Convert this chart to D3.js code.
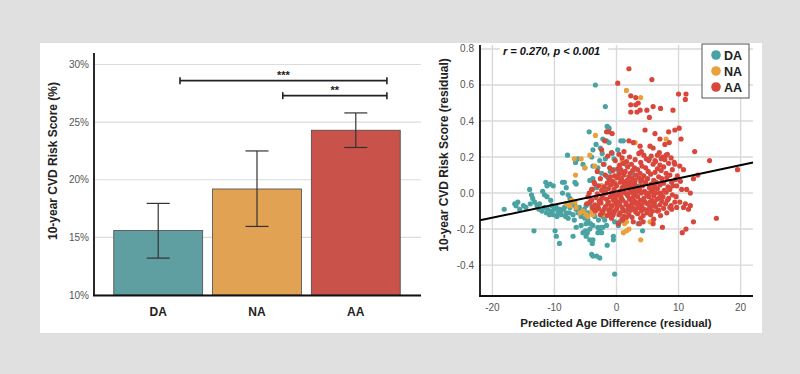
<!DOCTYPE html>
<html>
<head>
<meta charset="utf-8">
<script src="https://cdn.jsdelivr.net/npm/d3@7"></script>
<style>
  body { margin: 0; background: #e0e0e0; }
  svg { display: block; font-family: "Liberation Sans", Arial, sans-serif; }
</style>
</head>
<body>
<div id="chart"></div>
<script>
// ---- bar chart data ----
var groups = ["DA", "NA", "AA"];
var meanRisk = [15.6, 19.2, 24.3];
var errLow = [13.2, 15.95, 22.8];
var errHigh = [17.95, 22.5, 25.8];
var riskTicks = [10, 15, 20, 25, 30];
// brackets: from group, to group, height (%), label
var sigFrom = ["DA", "NA"];
var sigTo = ["AA", "AA"];
var sigLevel = [28.6, 27.3];
var sigLabel = ["***", "**"];

// ---- scatter data ----
var ageTicks = [-20, -10, 0, 10, 20];
var residTicks = [-0.4, -0.2, 0, 0.2, 0.4, 0.6, 0.8];
var fitSlope = 0.0073, fitIntercept = 0.009;
var fitText = "r = 0.270, p < 0.001";

var daPoints = [
  [-3.4,0.60],[-1.8,0.48],[-1.5,0.37],[-1.2,0.36],[-4.4,0.34],[-2.2,0.30],[-1.6,0.29],[-1.2,0.28],[0.7,0.29],[1.1,0.29],
  [-3.3,0.27],[-3.8,0.24],[-4.0,0.20],[-2.6,0.25],[-2.3,0.22],[-1.8,0.19],[-2.7,0.18],[-7.9,0.21],[-0.7,0.22],[-0.4,0.19],
  [5.3,0.19],[-5.4,0.16],[-5.1,0.14],[-6.6,0.17],[-6.2,0.19],[-3.8,0.15],[-3.0,0.14],[-2.0,0.16],[-0.5,0.13],[0.4,0.12],
  [-2.4,0.11],[-1.5,0.09],[-4.3,0.07],[-3.8,0.08],
  [-18.1,-0.09],[-16.4,-0.06],[-15.9,-0.05],[-16.2,-0.07],[-15.0,-0.07],[-15.6,-0.09],[-14.0,0.02],[-13.7,-0.01],[-13.5,-0.03],[-13.9,-0.06],
  [-13.2,-0.05],[-12.8,-0.07],[-12.4,-0.06],[-12.5,-0.09],[-13.3,-0.21],[-11.4,0.06],[-11.2,0.04],[-10.7,0.05],[-10.2,0.04],[-11.9,0.01],[-11.6,-0.01],
  [-11.2,-0.02],[-10.6,-0.04],[-11.6,-0.08],[-11.1,-0.09],[-10.5,-0.10],[-10.0,-0.09],[-11.3,-0.11],[-10.8,-0.12],[-10.2,-0.12],
  [-9.7,-0.08],[-9.2,-0.09],[-9.4,-0.11],[-8.6,-0.09],[-8.9,-0.12],[-8.1,-0.11],[-8.4,-0.08],[-9.9,-0.21],[-9.7,-0.24],[-9.2,-0.28],
  [-8.7,0.06],[-8.4,0.06],[-8.1,0.03],[-8.7,0.0],[-7.8,-0.01],[-7.5,-0.03],[-7.3,-0.06],[-6.7,-0.07],[-7.5,-0.08],[-6.5,-0.09],
  [-6.7,0.06],[-6.5,0.05],[-7.0,-0.24],[-6.5,-0.19],[-5.9,-0.10],[-5.4,-0.11],[-5.7,-0.13],[-5.1,-0.14],[-4.6,-0.15],[-4.9,-0.17],
  [-5.7,-0.18],[-5.0,-0.21],[-4.7,-0.22],[-4.2,-0.17],[-3.8,-0.18],[-4.3,-0.20],[-5.4,-0.22],[-4.9,-0.24],[-4.3,-0.26],[-3.9,-0.28],[-3.8,-0.26],
  [-4.0,-0.34],[-3.8,-0.35],[-3.2,-0.35],[-2.7,-0.36],[-3.0,-0.19],[-2.7,-0.20],[-2.4,-0.19],[-3.0,-0.22],[-2.4,-0.22],[-2.2,-0.19],
  [-1.9,-0.15],[-1.6,-0.18],[-1.5,-0.29],[-0.5,-0.24],[-0.5,-0.26],[-0.3,-0.45],[-0.8,-0.13],[-0.3,-0.16],[0.3,-0.18],[0.5,-0.16],
  [4.2,-0.21],[3.5,-0.17],[-3.2,0.03],[-2.4,0.04],[-1.9,0.02],[-4.9,-0.07],[-4.3,-0.06],[5.4,-0.08],[1.6,-0.10],
  [-9.0,-0.10],[-8.2,-0.13],[-7.6,-0.11],[-7.0,-0.12],[-6.2,-0.11],[-6.0,-0.08],[-5.2,-0.09],[-4.6,-0.11],[-3.5,-0.13],[-2.9,-0.15],
  [-2.2,-0.13],[-1.2,-0.10],[-10.4,-0.07],[-12.0,-0.10],[-14.6,-0.08],[-9.6,-0.13],[-7.8,-0.14],[-6.8,-0.15],
  [-1.0,0.12],[0.2,0.24],[1.5,0.16],[2.8,0.10],[3.6,0.04]
];

var naPoints = [
  [1.6,0.57],[3.9,0.53],[-3.4,0.32],[3.0,0.28],[8.0,0.30],[-6.8,0.19],[-5.7,0.19],[-4.3,0.21],[-5.1,0.14],[-3.5,0.15],
  [-6.6,0.10],[0.3,0.09],[1.9,0.16],[-8.1,-0.06],[-7.5,-0.07],[-6.7,-0.05],[-6.5,-0.08],[-5.9,-0.11],[-5.4,-0.10],[-4.9,-0.12],
  [-4.0,-0.10],[-3.8,-0.12],[1.3,-0.17],[1.6,-0.16],[1.1,-0.22],[1.6,-0.21],[2.0,-0.20],[3.9,-0.26],[5.4,-0.16],[0.5,-0.04],
  [-0.3,0.06],[-2.4,0.04],[-1.9,-0.12],[2.7,0.02],[-7.2,-0.04],[-4.6,-0.13],[-2.8,-0.09],[0.9,0.18]
];

var aaPoints = [
  [2.0,0.69],[0.2,0.61],[5.7,0.63],[2.3,0.54],[3.1,0.53],[3.5,0.50],[2.3,0.49],[3.1,0.49],[2.3,0.45],[3.3,0.45],
  [3.8,0.46],[4.9,0.46],[5.9,0.48],[7.1,0.47],[9.1,0.46],[5.3,0.42],[10.0,0.55],[11.2,0.55],[11.1,0.52],[4.6,0.35],
  [6.2,0.33],[7.0,0.30],[8.4,0.34],[9.4,0.35],[10.1,0.36],[10.4,0.30],[-1.2,0.34],[-1.9,0.29],[-2.4,0.24],[2.0,0.29],
  [2.7,0.28],[3.8,0.26],[5.4,0.26],[5.9,0.25],[4.0,0.23],[8.5,0.28],[7.8,0.27],[7.2,0.19],[8.0,0.21],[6.6,0.21],
  [6.2,0.18],[12.6,0.23],[15.0,0.18],[19.5,0.13],[9.4,0.16],[10.2,0.15],[10.8,0.13],[12.4,0.08],[13.1,0.10],[9.7,0.04],
  [10.5,0.02],[11.3,0.02],[11.9,0.0],[9.4,-0.05],[10.2,-0.05],[11.1,-0.06],[11.9,-0.07],[9.7,-0.08],[10.8,-0.08],[11.6,-0.09],
  [8.1,-0.11],[8.9,-0.09],[16.1,-0.14],[12.4,-0.16],[11.2,-0.20],[10.6,-0.22],[7.4,-0.19],[5.9,-0.17],[4.3,-0.16],[3.7,-0.17],
  [2.7,-0.16],[0.3,-0.17],[1.0,-0.15],[-3.5,0.05],[-4.0,0.02],[-1.6,0.34],[-0.7,0.33],
  [-0.8,0.225],[0.4,0.215],[1.2,0.23],[3.6,0.22],[4.4,0.21],[6.9,0.225],[8.2,0.215],
  [-1.4,0.205],[0.9,0.195],[2.1,0.2],[4.8,0.19],[5.6,0.205],[7.4,0.2],[8.8,0.195],
  [-0.2,0.18],[1.6,0.175],[3.0,0.185],[3.9,0.17],[5.2,0.18],[6.3,0.175],[7.8,0.185],[9.3,0.17],
  [-2.1,0.16],[0.5,0.155],[1.1,0.165],[2.4,0.16],[4.1,0.15],[5.9,0.16],[7.0,0.155],[8.4,0.165],
  [-1.1,0.14],[0.2,0.135],[1.8,0.145],[2.9,0.14],[3.4,0.13],[4.7,0.14],[6.6,0.135],[7.6,0.145],[9.0,0.13],
  [-3.1,0.12],[-0.6,0.125],[0.9,0.115],[1.4,0.12],[2.6,0.125],[3.8,0.11],[5.1,0.12],[6.2,0.115],[7.2,0.125],[8.0,0.11],
  [-1.8,0.1],[-0.3,0.095],[0.4,0.105],[1.2,0.1],[2.0,0.09],[3.1,0.1],[4.4,0.095],[5.5,0.105],[6.8,0.09],[8.6,0.1],[9.8,0.095],
  [-2.6,0.08],[-1.2,0.075],[0.1,0.085],[0.8,0.08],[1.7,0.07],[2.5,0.08],[3.6,0.085],[4.1,0.075],[5.0,0.08],[6.0,0.07],[7.3,0.08],[8.1,0.085],[9.5,0.075],
  [-3.6,0.06],[-1.5,0.055],[-0.6,0.065],[0.6,0.06],[1.3,0.05],[2.2,0.06],[2.9,0.055],[3.9,0.065],[4.7,0.06],[5.6,0.05],[6.4,0.06],[7.6,0.055],[8.9,0.06],[10.3,0.065],
  [-2.9,0.04],[-2.0,0.035],[-0.9,0.045],[0.0,0.04],[0.9,0.03],[1.6,0.04],[2.6,0.045],[3.3,0.035],[4.2,0.04],[5.3,0.03],[6.1,0.04],[7.0,0.045],[8.3,0.035],[9.1,0.04],
  [-3.9,0.02],[-2.4,0.015],[-1.3,0.025],[-0.4,0.02],[0.5,0.01],[1.1,0.02],[2.0,0.025],[2.8,0.015],[3.7,0.02],[4.5,0.01],[5.9,0.02],[6.6,0.025],[7.7,0.015],[8.6,0.02],
  [-4.4,0.0],[-3.1,-0.005],[-1.9,0.005],[-0.8,0.0],[0.2,-0.01],[1.4,0.0],[2.3,0.005],[3.0,-0.005],[4.0,0.0],[4.9,-0.01],[5.5,0.005],[6.3,0.0],[7.2,-0.005],[8.0,0.005],[9.0,-0.01],
  [-4.6,-0.02],[-3.3,-0.025],[-2.2,-0.015],[-1.0,-0.02],[-0.2,-0.03],[0.7,-0.02],[1.8,-0.015],[2.6,-0.025],[3.4,-0.02],[4.4,-0.03],[5.2,-0.02],[6.0,-0.015],[6.9,-0.025],[7.5,-0.02],[8.4,-0.03],[9.6,-0.02],
  [-4.0,-0.04],[-2.8,-0.045],[-1.6,-0.035],[-0.5,-0.04],[0.3,-0.05],[1.0,-0.04],[2.1,-0.035],[2.9,-0.045],[3.8,-0.04],[4.6,-0.05],[5.7,-0.04],[6.5,-0.035],[7.3,-0.045],[8.2,-0.04],
  [-4.8,-0.06],[-3.5,-0.065],[-2.5,-0.055],[-1.4,-0.06],[-0.7,-0.07],[0.5,-0.06],[1.5,-0.055],[2.4,-0.065],[3.2,-0.06],[4.1,-0.07],[5.0,-0.06],[6.1,-0.055],[7.0,-0.065],[7.9,-0.06],[8.8,-0.07],
  [-3.9,-0.08],[-2.9,-0.085],[-1.8,-0.075],[-0.9,-0.08],[0.0,-0.09],[0.9,-0.08],[1.9,-0.075],[2.7,-0.085],[3.5,-0.08],[4.5,-0.09],[5.4,-0.08],[6.3,-0.075],[7.6,-0.085],[8.6,-0.08],
  [-3.4,-0.1],[-2.3,-0.105],[-1.2,-0.095],[-0.3,-0.1],[0.6,-0.11],[1.4,-0.1],[2.3,-0.095],[3.1,-0.105],[4.0,-0.1],[4.9,-0.11],[5.8,-0.1],[6.8,-0.095],
  [-2.6,-0.12],[-1.5,-0.125],[-0.5,-0.115],[0.4,-0.12],[1.2,-0.13],[2.0,-0.12],[3.4,-0.115],[4.3,-0.125],[5.5,-0.12],[7.1,-0.125],
  [-0.8,-0.14],[0.9,-0.145],[2.5,-0.135],[3.9,-0.14],[6.0,-0.145],
  [-3.0,-0.07],[-2.0,-0.09],[-1.0,-0.11],[0.1,-0.075],[1.1,-0.095],[2.0,-0.085],[3.0,-0.09],[4.0,-0.085],[5.0,-0.095],
  [-2.4,-0.03],[-1.3,-0.05],[-0.1,-0.055],[0.8,-0.03],[1.6,-0.065],[2.5,-0.05],[3.6,-0.055],[4.4,-0.045],[5.4,-0.05],
  [-1.7,0.0],[-0.4,-0.01],[0.9,0.005],[1.8,-0.005],[2.7,0.0],[3.5,0.01],[-0.2,0.05],[1.0,0.065],[2.0,0.045],[3.0,0.07],
  [-1.0,0.09],[0.7,0.13],[2.2,0.11],[-2.3,-0.11],[-0.6,-0.125],[1.6,-0.135],[-3.6,-0.09],[-4.3,-0.05],[4.8,0.0],[5.9,-0.07],
  [6.6,-0.1],[7.0,0.0]
];

var barColors = ["#5f9fa2", "#e2a254", "#c9534a"];
var dotColors = ["#4aa3a3", "#e9a23b", "#d9473c"];

var svg = d3.select("#chart").append("svg")
    .attr("width", 800)
    .attr("height", 374);

svg.append("rect").attr("width", 800).attr("height", 374).attr("fill", "#e0e0e0");
svg.append("rect")
    .attr("x", 40).attr("y", 43)
    .attr("width", 722).attr("height", 290)
    .attr("fill", "#ffffff");

// ================= bar chart =================
var bx = d3.scaleBand().domain(groups).range([94, 420]).paddingInner(0.1).paddingOuter(0.2);
var by = d3.scaleLinear().domain([10, 31]).range([295, 53]);

var bars = svg.append("g").attr("class", "bars");

bars.selectAll("line.grid")
    .data(riskTicks)
  .enter().append("line")
    .attr("class", "grid")
    .attr("x1", 94).attr("x2", 421)
    .attr("y1", function(d) { return by(d); })
    .attr("y2", function(d) { return by(d); })
    .attr("stroke", "#dcdcdc")
    .attr("stroke-width", 1.2);

bars.selectAll("text.tick")
    .data(riskTicks)
  .enter().append("text")
    .attr("class", "tick")
    .attr("x", 89)
    .attr("y", function(d) { return by(d) + 3.5; })
    .attr("text-anchor", "end")
    .attr("font-size", 10)
    .attr("fill", "#555")
    .text(function(d) { return d + "%"; });

bars.selectAll("rect.bar")
    .data(groups)
  .enter().append("rect")
    .attr("class", "bar")
    .attr("x", function(d) { return bx(d); })
    .attr("width", bx.bandwidth())
    .attr("y", function(d, i) { return by(meanRisk[i]); })
    .attr("height", function(d, i) { return by(10) - by(meanRisk[i]); })
    .attr("fill", function(d, i) { return barColors[i]; })
    .attr("stroke", "#4a4a4a")
    .attr("stroke-width", 0.8);

// error bars
var err = bars.selectAll("g.err")
    .data(groups)
  .enter().append("g")
    .attr("class", "err")
    .attr("stroke", "#333")
    .attr("stroke-width", 1.2);

err.append("line")
    .attr("x1", function(d) { return bx(d) + bx.bandwidth() / 2; })
    .attr("x2", function(d) { return bx(d) + bx.bandwidth() / 2; })
    .attr("y1", function(d, i) { return by(errLow[i]); })
    .attr("y2", function(d, i) { return by(errHigh[i]); });
[errLow, errHigh].forEach(function(arr) {
  err.append("line")
      .attr("x1", function(d) { return bx(d) + bx.bandwidth() / 2 - 11.5; })
      .attr("x2", function(d) { return bx(d) + bx.bandwidth() / 2 + 11.5; })
      .attr("y1", function(d, i) { return by(arr[i]); })
      .attr("y2", function(d, i) { return by(arr[i]); });
});

// significance brackets
var bw = bx.bandwidth();
var fromShift = [0.745, 0.79], toShift = 0.85;
sigLabel.forEach(function(lab, i) {
  var x1 = bx(sigFrom[i]) + bw * fromShift[i],
      x2 = bx(sigTo[i]) + bw * toShift,
      yy = by(sigLevel[i]);
  var g = bars.append("g").attr("stroke", "#222").attr("stroke-width", 1.6);
  g.append("line").attr("x1", x1).attr("x2", x2).attr("y1", yy).attr("y2", yy);
  g.append("line").attr("x1", x1).attr("x2", x1).attr("y1", yy - 3.5).attr("y2", yy + 3.5);
  g.append("line").attr("x1", x2).attr("x2", x2).attr("y1", yy - 3.5).attr("y2", yy + 3.5);
  bars.append("text")
      .attr("x", (x1 + x2) / 2)
      .attr("y", yy - 1.5)
      .attr("text-anchor", "middle")
      .attr("font-size", 11)
      .attr("font-weight", "bold")
      .attr("fill", "#222")
      .text(lab);
});

// axes
bars.append("line").attr("x1", 94).attr("x2", 94).attr("y1", 53).attr("y2", 295.5)
    .attr("stroke", "#111").attr("stroke-width", 1.8);
bars.append("line").attr("x1", 93).attr("x2", 421).attr("y1", 295.5).attr("y2", 295.5)
    .attr("stroke", "#111").attr("stroke-width", 1.8);

bars.selectAll("text.cat")
    .data(groups)
  .enter().append("text")
    .attr("class", "cat")
    .attr("x", function(d) { return bx(d) + bw / 2; })
    .attr("y", 316)
    .attr("text-anchor", "middle")
    .attr("font-size", 12)
    .attr("font-weight", "bold")
    .attr("fill", "#222")
    .text(function(d) { return d; });

bars.append("text")
    .attr("transform", "translate(57,161) rotate(-90)")
    .attr("text-anchor", "middle")
    .attr("font-size", 12)
    .attr("font-weight", "bold")
    .attr("fill", "#222")
    .text("10-year CVD Risk Score (%)");

// ================= scatter =================
var sx = d3.scaleLinear().domain([-22, 22]).range([480, 753]);
var sy = d3.scaleLinear().domain([-0.57, 0.822]).range([295.7, 45]);

var sc = svg.append("g").attr("class", "scatter");

sc.selectAll("line.vgrid")
    .data(ageTicks)
  .enter().append("line")
    .attr("x1", function(d) { return sx(d); })
    .attr("x2", function(d) { return sx(d); })
    .attr("y1", 45).attr("y2", 296)
    .attr("stroke", "#d9d9d9").attr("stroke-width", 1.4);

sc.selectAll("line.hgrid")
    .data(residTicks)
  .enter().append("line")
    .attr("x1", 480).attr("x2", 753)
    .attr("y1", function(d) { return sy(d); })
    .attr("y2", function(d) { return sy(d); })
    .attr("stroke", "#d9d9d9").attr("stroke-width", 1.4);

sc.selectAll("text.ytick")
    .data(residTicks)
  .enter().append("text")
    .attr("x", 474)
    .attr("y", function(d) { return sy(d) + 3.5; })
    .attr("text-anchor", "end")
    .attr("font-size", 10)
    .attr("fill", "#555")
    .text(function(d) { return d3.format(".1f")(d).replace("−", "-"); });

sc.selectAll("text.xtick")
    .data(ageTicks)
  .enter().append("text")
    .attr("x", function(d) { return sx(d); })
    .attr("y", 311)
    .attr("text-anchor", "middle")
    .attr("font-size", 10)
    .attr("fill", "#555")
    .text(function(d) { return d; });

var sets = [daPoints, naPoints, aaPoints];
sets.forEach(function(pts, i) {
  sc.append("g").selectAll("circle")
      .data(pts)
    .enter().append("circle")
      .attr("cx", function(d) { return sx(d[0]); })
      .attr("cy", function(d) { return sy(d[1]); })
      .attr("r", 2.6)
      .attr("fill", dotColors[i]);
});

// regression line
sc.append("line")
    .attr("x1", sx(-22)).attr("y1", sy(fitIntercept + fitSlope * -22))
    .attr("x2", sx(22)).attr("y2", sy(fitIntercept + fitSlope * 22))
    .attr("stroke", "#000").attr("stroke-width", 2);

// axes
sc.append("line").attr("x1", 480).attr("x2", 480).attr("y1", 45).attr("y2", 296)
    .attr("stroke", "#111").attr("stroke-width", 1.8);
sc.append("line").attr("x1", 479).attr("x2", 753).attr("y1", 296).attr("y2", 296)
    .attr("stroke", "#111").attr("stroke-width", 1.8);

// annotation
sc.append("rect").attr("x", 500).attr("y", 44).attr("width", 108).attr("height", 13).attr("fill", "#fff");
sc.append("text")
    .attr("x", 503).attr("y", 54.5)
    .attr("font-size", 11)
    .attr("font-weight", "bold")
    .attr("font-style", "italic")
    .attr("fill", "#111")
    .text(fitText);

sc.append("text")
    .attr("x", 616).attr("y", 327)
    .attr("text-anchor", "middle")
    .attr("font-size", 11.5)
    .attr("font-weight", "bold")
    .attr("fill", "#222")
    .text("Predicted Age Difference (residual)");

sc.append("text")
    .attr("transform", "translate(448,155) rotate(-90)")
    .attr("text-anchor", "middle")
    .attr("font-size", 12)
    .attr("font-weight", "bold")
    .attr("fill", "#222")
    .text("10-year CVD Risk Score (residual)");

// legend
var leg = sc.append("g");
leg.append("rect").attr("x", 702).attr("y", 44).attr("width", 47).attr("height", 54)
    .attr("fill", "#fff").attr("stroke", "#555").attr("stroke-width", 1);
groups.forEach(function(gname, i) {
  leg.append("circle").attr("cx", 716).attr("cy", 55 + i * 16).attr("r", 4.8).attr("fill", dotColors[i]);
  leg.append("text").attr("x", 724).attr("y", 59.5 + i * 16)
      .attr("font-size", 12.5).attr("font-weight", "bold").attr("fill", "#222")
      .text(gname);
});
</script>
</body>
</html>
